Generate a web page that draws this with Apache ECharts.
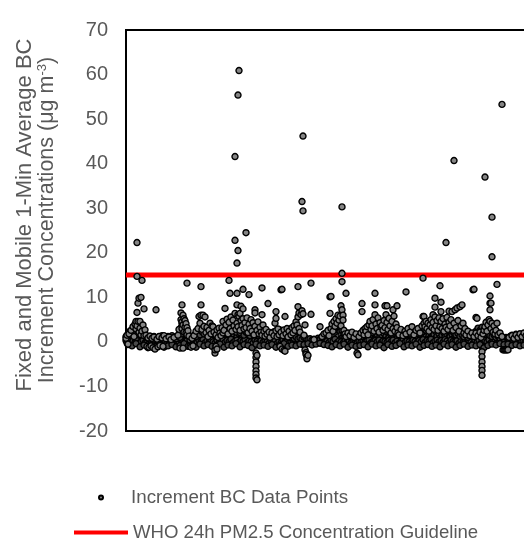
<!DOCTYPE html>
<html>
<head>
<meta charset="utf-8">
<script src="https://cdn.jsdelivr.net/npm/echarts@6/dist/echarts.min.js"></script>
<style>
html,body{margin:0;padding:0;background:#fff;overflow:hidden;width:524px;height:542px;}
#c{width:560px;height:542px;}
</style>
</head>
<body>
<div id="c"></div>
<script>
// ---- data ----
const seriesNames = ['Increment BC Data Points', 'WHO 24h PM2.5 Concentration Guideline'];
const yMin = -20, yMax = 70, yStep = 10;
const xMin = 0, xMax = 420;           // observation index (1-min samples, binned)
const whoGuideline = 15;               // µg m-3

// core band: one value per index 0..409
const core = [
0.3,0.8,-0.2,0.5,1.2,0.4,-0.3,0.9,1.5,0.6,
2.1,1.0,0.3,1.8,0.7,2.5,0.2,1.1,-0.4,0.6,
-0.6,0.2,-0.8,0.1,-0.5,0.4,-0.9,-0.2,0.3,-1.0,
-0.4,0.2,-0.7,0.5,-0.3,0.1,-0.6,0.3,-0.2,0.4,
0.0,-0.5,0.6,-0.1,0.3,-0.4,0.2,-0.2,0.5,0.1,
-0.3,0.4,0.8,1.5,2.4,3.2,4.1,2.8,3.6,1.9,
2.7,1.2,0.6,-0.8,-0.9,-0.6,-0.8,-0.3,0.2,0.5,
1.0,0.4,1.6,0.7,2.2,0.9,1.4,0.3,1.8,0.6,
1.2,0.2,2.0,0.8,1.5,0.4,2.6,1.1,0.5,-0.9,
0.7,1.3,0.4,2.1,0.9,1.6,0.6,2.4,1.2,0.8,
1.9,0.5,2.7,1.3,0.7,2.2,1.0,3.1,1.5,0.6,
2.5,1.2,0.4,1.8,2.9,0.9,1.6,0.3,2.3,1.1,
0.7,1.9,0.2,1.4,2.6,0.8,1.3,-0.5,0.6,-0.8,
0.9,0.3,1.7,0.5,1.1,0.2,1.6,0.4,0.9,-0.2,
0.6,1.3,0.1,0.8,-0.3,1.0,0.4,1.5,0.2,0.7,
-0.5,0.9,0.3,1.2,-0.4,0.6,-1.2,0.2,-1.5,0.8,
0.4,1.1,0.2,0.7,-0.3,0.9,0.5,1.4,0.3,0.8,
1.6,2.4,1.0,0.5,0.2,-0.4,0.3,-0.6,0.1,-0.3,
-0.2,0.0,-0.3,-0.1,-0.4,-0.2,0.1,-0.3,-0.1,-0.2,
0.0,-0.3,0.2,-0.1,0.4,0.1,0.6,0.3,0.9,0.5,
1.2,0.7,1.5,0.4,2.0,1.1,2.6,1.6,3.2,2.2,
3.8,2.7,4.5,3.3,2.4,1.5,0.9,0.4,1.2,0.2,
0.6,-0.2,0.9,0.3,-0.4,0.7,0.1,1.0,-0.3,0.5,
0.2,-0.5,0.8,0.0,0.6,1.2,0.3,0.9,0.4,1.4,
0.6,1.8,1.0,2.3,1.4,0.7,2.0,1.1,2.6,1.5,
0.9,1.7,0.4,2.1,1.2,0.6,1.5,0.3,1.9,0.8,
1.3,0.5,2.0,1.0,0.4,1.6,0.7,2.2,1.1,0.3,
1.4,0.8,0.2,1.7,0.6,1.2,-0.2,0.9,0.4,1.3,
0.5,1.8,0.7,1.1,0.3,1.5,0.8,0.2,1.2,0.6,
1.6,0.4,1.0,2.0,0.7,1.3,0.5,1.8,0.9,2.3,
1.2,0.6,2.5,1.4,0.8,2.1,1.0,2.8,1.6,0.7,
2.3,1.3,3.0,1.8,0.9,2.6,1.5,3.4,2.0,1.1,
2.7,1.6,0.8,2.2,1.2,3.1,1.7,0.6,2.4,1.3,
0.8,1.9,0.5,1.4,0.9,0.3,1.1,0.4,0.7,-0.2,
0.5,0.1,0.8,-0.4,0.3,0.6,-0.3,0.2,0.9,-0.5,
0.4,1.2,0.3,0.8,-0.6,0.5,-1.0,0.7,1.5,0.9,
2.0,1.3,2.8,1.6,0.8,2.4,1.1,3.0,1.7,0.6,
1.4,0.5,0.9,0.2,0.6,-0.1,0.3,-0.4,0.1,-0.2,
0.0,-0.3,0.2,-0.1,0.4,-0.2,0.3,0.0,0.5,0.1,
0.6,0.2,0.9,0.3,0.7,-0.1,0.4,1.0,0.2,0.6,
0.8,0.3,1.1,0.4,0.0,0.7,0.2,0.9,0.5,0.3
];

// baseline band: one value per odd index 1,3,...,409
const baseline = [
-0.2,0.1,-0.4,0.2,-0.1,0.3,-0.3,0.0,0.4,-0.2,
0.1,-0.5,0.2,-0.3,0.0,-0.6,0.1,-0.4,-0.2,0.2,
-0.3,0.1,-0.2,0.3,-0.1,0.2,-0.3,0.5,0.2,-0.1,
0.3,-0.4,-0.2,0.0,0.4,-0.1,0.3,0.0,0.5,-0.2,
0.2,-0.1,0.4,0.0,-0.3,0.3,-0.2,0.1,0.5,-0.1,
0.3,0.0,0.6,-0.2,0.2,0.4,-0.1,0.3,0.1,0.5,
-0.2,0.2,0.0,-0.3,0.4,0.1,-0.2,0.3,-0.1,0.2,
0.0,-0.3,0.3,-0.1,0.2,-0.4,0.1,-0.2,0.4,0.0,
0.2,-0.3,0.1,0.3,-0.1,-0.5,0.2,-0.3,-0.6,0.0,
-0.2,-0.1,-0.3,0.0,-0.2,-0.1,0.1,-0.3,0.2,0.0,
0.3,-0.1,0.4,0.1,0.6,-0.2,0.2,0.0,-0.3,0.2,
-0.1,0.3,-0.2,0.1,0.4,-0.3,0.2,0.0,0.3,-0.1,
0.2,0.5,-0.2,0.1,0.3,0.0,0.4,-0.2,0.2,0.1,
-0.1,0.3,0.0,0.4,-0.2,0.2,-0.3,0.1,0.3,-0.1,
0.2,0.0,-0.3,0.4,0.1,-0.2,0.3,0.0,0.5,-0.1,
0.3,0.1,0.6,-0.2,0.2,0.4,0.0,0.3,-0.1,0.5,
0.2,-0.2,0.4,0.1,0.0,0.3,-0.3,0.2,-0.1,0.1,
-0.2,0.3,0.0,-0.4,0.2,-0.1,0.4,-0.3,0.1,0.3,
0.0,0.5,-0.2,0.2,0.4,-0.1,0.1,-0.3,0.2,-0.2,
0.0,-0.1,0.1,-0.2,0.2,0.0,-0.3,0.3,0.1,-0.1,
0.2,0.0,-0.2,0.3,0.1
];

// upper band: one value per even index 0,2,...,408
const upperBand = [
1.2,1.6,2.4,1.5,1.9,2.8,3.2,2.6,2.0,1.4,
1.1,0.8,1.3,0.9,1.2,0.7,1.0,0.8,1.4,1.1,
0.9,1.2,0.8,1.4,1.0,0.7,1.3,1.0,1.8,3.0,
2.5,1.6,0.4,0.8,1.5,1.2,1.9,1.6,2.3,1.8,
2.8,1.9,2.2,3.0,1.7,1.4,2.6,2.0,2.9,3.3,
2.4,3.6,2.7,3.9,2.9,2.2,3.4,2.1,2.8,1.5,
2.2,1.8,1.4,2.0,1.6,1.9,1.5,2.2,1.7,1.3,
1.9,1.6,1.2,1.8,2.3,1.5,2.1,2.7,1.8,1.4,
1.2,1.6,1.0,1.3,0.8,1.1,0.7,0.9,0.6,1.0,
0.8,0.5,0.7,0.4,0.6,0.5,0.8,0.6,1.1,1.3,
1.7,2.2,2.6,3.1,2.8,3.6,4.0,3.4,2.6,1.8,
1.4,1.7,1.2,1.5,1.0,1.6,1.3,1.8,1.2,1.5,
1.9,2.3,2.7,2.1,3.0,2.5,3.4,2.9,2.6,3.1,
2.4,2.9,2.2,2.7,2.0,2.6,1.9,2.3,1.7,2.2,
1.6,2.1,1.8,2.5,2.0,2.4,1.9,2.8,2.2,3.0,
2.6,3.2,2.8,3.6,3.0,3.8,3.3,2.9,3.5,2.7,
3.2,2.5,3.0,2.4,2.1,1.6,1.9,1.3,1.6,1.1,
1.5,1.0,1.3,1.4,1.9,2.4,3.1,2.6,3.3,2.7,
2.2,1.8,1.4,1.2,1.6,1.0,1.3,0.8,1.1,0.7,
1.0,0.9,1.2,1.5,1.1,1.7,1.3,1.8,1.4,1.6,
1.2,1.5,1.1,1.4,1.0
];

// lower band: one value per index 2,6,10,...,406
const lowBand = [
-0.6,-0.9,-0.4,-1.1,-0.7,-1.3,-0.8,-1.0,-0.5,-1.2,
-0.9,-0.6,-1.1,-0.8,-0.4,-1.0,-0.7,-1.2,-0.5,-0.9,
-0.6,-1.0,-0.8,-0.5,-1.2,-0.7,-0.9,-0.4,-1.1,-0.6,
-0.8,-1.3,-0.5,-0.9,-0.7,-1.0,-0.6,-1.2,-0.8,-0.4,
-1.0,-0.7,-0.9,-0.5,-0.6,-0.4,-0.7,-0.5,-0.3,-0.6,
-0.8,-1.1,-0.6,-0.9,-0.5,-1.2,-0.7,-1.0,-0.8,-0.6,
-1.1,-0.5,-0.9,-0.7,-1.3,-0.6,-1.0,-0.8,-0.4,-1.1,
-0.7,-0.9,-0.5,-1.2,-0.8,-0.6,-1.0,-0.7,-1.1,-0.5,
-0.9,-0.6,-1.2,-0.8,-0.5,-1.0,-0.7,-0.9,-0.6,-1.3,
-0.8,-0.5,-0.7,-0.4,-0.6,-0.5,-0.8,-0.6,-0.9,-0.7,
-1.0,-0.6
];

// scattered points [index, value]
const spread = [
[0,0.8],[1,1.5],[2,-0.5],[3,1.8],[5,2.6],[7,3.4],[8,1.2],[9,4.0],[10,4.6],[10,2.9],[11,6.6],[11,3.6],[12,4.6],[12,8.7],[13,9.8],[13,2.2],[14,4.6],[14,3.1],[15,10.0],[15,1.6],[16,2.4],[17,3.8],[18,7.4],[18,1.4],[19,2.7],[20,1.5],[22,0.9],[24,1.3],[26,0.8],[28,1.1],[30,7.2],[31,0.6],[33,1.2],[36,0.9],[38,1.4],[40,0.7],[43,1.1],[45,0.5],[48,1.0],
[21,-1.0],[23,-1.2],[25,-0.9],[27,-1.3],[29,-1.6],[32,-1.1],[34,-0.8],[37,-1.0],
[52,1.5],[53,2.8],[54,-1.4],[55,6.5],[55,5.0],[56,8.3],[56,4.5],[56,3.0],[57,6.0],[57,-1.4],[57,3.8],[58,5.2],[58,2.2],[59,4.8],[59,3.3],[60,2.0],[60,4.1],[61,1.6],[61,3.2],[62,2.5],[63,1.3],[64,-1.0],[65,-1.2],[66,0.8],[67,-0.9],
[68,1.4],[70,2.4],[72,3.0],[73,5.7],[74,4.2],[75,8.3],[75,6.0],[76,2.8],[77,6.0],[78,3.5],[79,5.6],[80,2.1],[81,3.3],[82,1.2],[83,2.6],[84,4.2],[85,1.8],[86,3.6],[87,3.4],[88,2.2],[89,-2.5],[89,-1.8],[90,-1.0],[90,1.6],[91,-1.6],[91,2.7],[92,1.0],[93,3.1],[94,2.0],[95,1.4],[97,2.0],
[96,3.2],[97,4.6],[98,2.6],[99,7.5],[100,3.8],[101,5.1],[102,1.8],[103,4.4],[104,3.0],[105,5.6],[106,2.4],[107,4.9],[108,3.6],[109,6.4],[110,2.8],[111,8.3],[111,4.2],[112,6.1],[112,3.4],[113,5.7],[114,6.4],[114,2.6],[115,8.0],[115,4.8],[116,3.7],[117,7.4],[117,5.2],[118,2.9],[119,4.3],[120,3.2],[121,5.4],[122,2.1],[123,4.0],[124,3.0],[125,5.0],[126,2.4],[127,4.3],[128,1.6],[129,7.2],[129,6.5],[129,3.5],
[130,-2.5],[130,-3.5],[130,-4.5],[130,-5.5],[130,-6.5],[130,-7.3],[130,-8.1],[131,-8.5],[131,-3.0],[131,2.6],[132,4.5],[133,1.8],[134,3.3],[135,2.2],[136,6.1],[136,1.5],[137,3.8],[138,2.4],[139,1.3],[140,2.8],[141,1.7],[142,8.6],[143,2.2],[144,1.0],
[146,2.0],[148,1.4],[149,4.2],[150,6.8],[150,5.3],[150,2.5],[151,1.2],[152,2.9],[153,1.6],[154,-1.0],[155,2.2],[156,-1.6],[157,1.4],[158,-1.9],[158,2.7],[159,5.7],[159,-2.1],[160,1.8],[161,3.0],[162,1.1],[163,2.4],[165,1.6],[166,3.2],[167,2.0],[168,3.6],[169,2.6],[170,4.5],[171,3.8],[172,7.9],[172,5.6],[173,6.5],[173,3.0],[174,2.2],[175,6.1],[176,7.0],[177,6.3],[178,1.5],[179,-1.8],[179,3.8],[180,-2.4],[180,-2.8],[181,-3.3],[181,-3.8],[182,-3.0],[185,6.2],[188,0.5],[194,3.4],[196,1.2],[198,1.8],
[200,2.0],[202,2.6],[203,1.4],[204,6.4],[205,3.0],[206,4.0],[207,2.4],[208,4.6],[209,3.5],[210,5.2],[211,4.2],[212,6.0],[213,4.9],[214,5.8],[215,8.1],[215,3.6],[216,7.2],[217,6.0],[217,4.9],[218,2.6],[219,1.8],[220,1.2],[222,2.0],[224,1.4],[226,2.2],[228,1.0],[230,1.8],[231,-2.5],[232,-2.9],[233,1.2],[235,2.0],[236,8.6],[236,6.8],[237,2.6],[238,1.6],[239,3.0],
[240,2.4],[241,3.4],[242,1.6],[243,3.8],[244,4.6],[245,2.8],[246,3.6],[247,5.0],[248,2.4],[249,8.3],[249,6.1],[250,4.0],[251,3.0],[252,5.4],[253,2.2],[254,4.3],[255,3.4],[256,3.7],[257,2.6],[258,4.8],[259,8.1],[259,3.2],[260,6.1],[261,8.1],[261,4.4],[262,2.8],[263,5.3],[264,3.6],[265,2.0],[266,4.6],[267,7.2],[267,3.0],[268,5.8],[269,2.4],[270,4.0],[271,8.1],[271,3.2],[272,2.0],[273,1.6],[275,2.8],[277,1.4],[279,2.4],[280,1.8],[282,3.0],[284,2.2],[286,3.4],[288,1.6],[290,2.6],[292,3.0],[294,2.0],[296,3.6],[297,5.7],[298,5.7],[298,4.2],[299,3.4],
[300,4.6],[301,3.0],[302,4.2],[303,2.4],[304,3.8],[305,5.0],[306,3.2],[307,6.1],[307,4.4],[308,2.8],[309,9.8],[309,7.8],[309,5.6],[310,3.6],[311,4.8],[312,2.6],[313,5.4],[314,3.4],[315,8.9],[315,6.8],[315,4.6],[316,3.0],[317,5.2],[318,2.4],[319,4.0],[320,3.3],[321,5.5],[322,2.8],[323,6.9],[323,4.4],[324,3.6],[325,5.0],[326,6.8],[327,2.6],[328,4.2],[329,7.2],[330,3.2],[331,7.6],[332,4.8],[333,2.4],[334,7.9],[335,3.6],[336,8.3],[337,4.2],[338,2.0],[339,3.0],[340,1.6],[342,2.4],[344,1.4],[346,2.0],[348,1.2],[350,5.5],[350,2.0],[351,5.3],[352,1.4],[354,2.2],
[355,1.0],[356,-2.2],[356,-3.3],[356,-4.5],[356,-5.5],[356,-6.4],[356,-7.5],[357,1.8],[358,2.6],[359,3.4],[360,4.4],[361,2.4],[362,3.8],[363,5.0],[364,8.7],[364,7.2],[364,4.6],[365,8.7],[365,3.0],[366,4.2],[367,2.2],[368,3.6],[369,1.8],[370,2.6],[371,4.2],[372,1.6],[374,2.0],[376,1.2],[377,-1.8],[378,-1.8],[379,-1.8],[380,-1.8],[381,-1.8],[382,-1.8],[383,1.0],[386,1.4],[388,0.8],[390,1.6],[392,1.0],[394,1.8],[396,1.2],[398,2.0],[400,1.4]
];

// high outliers [index, value]
const peaks = [
[11,22.3],[11,14.7],[16,13.8],[61,13.2],[75,12.4],[103,13.8],[104,10.9],[109,22.8],[109,41.6],[111,10.9],[111,17.7],[112,55.4],[112,20.5],[113,60.9],[117,11.8],[120,24.5],[123,10.6],[136,12.1],[155,11.7],[156,11.8],[172,12.4],[176,31.5],[177,46.2],[177,29.4],[185,13.2],[204,10.1],[205,10.2],[216,30.3],[216,15.4],[216,13.5],[220,10.9],[249,10.9],[280,11.2],[297,14.3],[314,12.6],[320,22.3],[328,40.7],[347,11.7],[348,11.8],[359,37.0],[364,10.3],[366,28.0],[366,19.1],[371,12.9],[376,53.3]
];

// ---- build ----
const bandPts = [];
core.forEach((v, i) => bandPts.push([i, v]));
baseline.forEach((v, i) => bandPts.push([2 * i + 1, v]));
upperBand.forEach((v, i) => bandPts.push([2 * i, v]));
lowBand.forEach((v, i) => bandPts.push([4 * i + 2, v]));
const loosePts = spread.concat(peaks);

const grey = '#595959';
const font = 'Liberation Sans, Arial, sans-serif';
const chart = echarts.init(document.getElementById('c'), null, {renderer: 'canvas'});
chart.setOption({
  animation: false,
  backgroundColor: '#fff',
  grid: {left: 126, right: 14, top: 30, bottom: 111, show: true, borderColor: '#000', borderWidth: 2, backgroundColor: 'transparent'},
  xAxis: {type: 'value', min: xMin, max: xMax, show: false, splitLine: {show: false}},
  yAxis: {
    type: 'value', min: yMin, max: yMax, interval: yStep,
    axisLine: {show: false}, axisTick: {show: false}, splitLine: {show: false},
    axisLabel: {color: grey, fontSize: 20, fontFamily: font, margin: 18}
  },
  legend: [
    {data: [seriesNames[0]], left: 98, top: 488, padding: 0, itemWidth: 50, itemHeight: 4, icon: 'circle',
     textStyle: {color: grey, fontSize: 18.8, fontFamily: font}},
    {data: [seriesNames[1]], left: 74, top: 523, padding: 0, itemWidth: 54, itemHeight: 4, icon: 'rect',
     textStyle: {color: grey, fontSize: 18.6, fontFamily: font}}
  ],
  graphic: [
    {type: 'text', x: 25, y: 215, rotation: Math.PI / 2,
     style: {text: 'Fixed and Mobile 1-Min Average BC', fill: grey, fontSize: 22, fontFamily: font, align: 'center', verticalAlign: 'middle'}},
    {type: 'text', x: 47, y: 220, rotation: Math.PI / 2,
     style: {text: '{a|Increment Concentrations (μg m}{b|-3}{a|)}', align: 'center', verticalAlign: 'middle',
       rich: {a: {fill: grey, fontSize: 21.5, fontFamily: font},
              b: {fill: grey, fontSize: 13, fontFamily: font, verticalAlign: 'top'}}}}
  ],
  series: [
    {name: seriesNames[1], type: 'line', data: [[xMin, whoGuideline], [xMax, whoGuideline]], showSymbol: false, symbol: 'none',
     lineStyle: {color: '#ff0000', width: 5}, itemStyle: {color: '#ff0000'}, z: 2},
    {name: seriesNames[0], type: 'scatter', data: loosePts, symbolSize: 6,
     itemStyle: {color: '#858585', borderColor: '#000', borderWidth: 1.4, opacity: 1}, z: 4},
    {name: seriesNames[0], type: 'scatter', data: bandPts, symbolSize: 6,
     itemStyle: {color: '#4a4a4a', borderColor: '#000', borderWidth: 1.4, opacity: 1}, z: 3}
  ]
});
</script>
</body>
</html>
